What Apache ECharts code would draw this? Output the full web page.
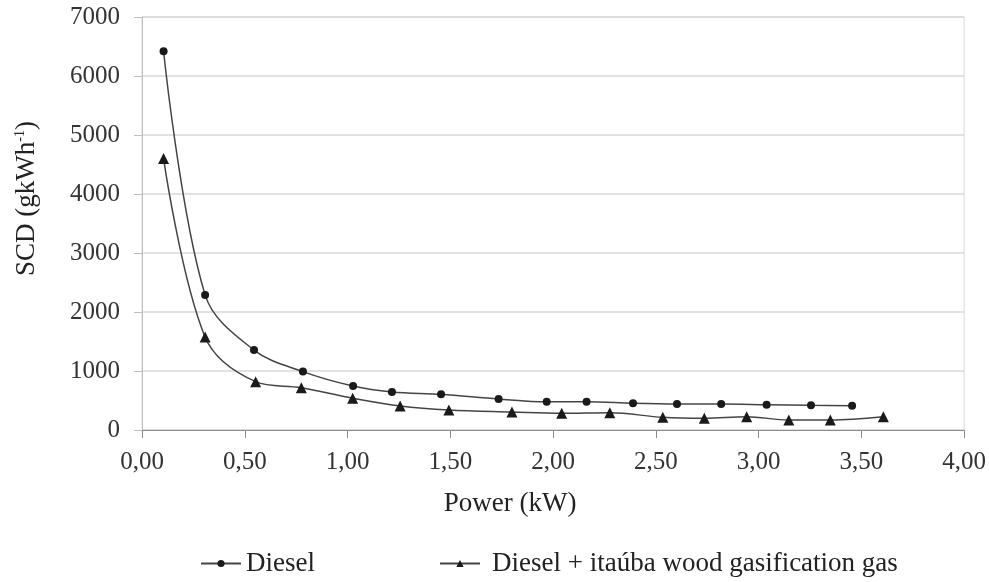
<!DOCTYPE html>
<html>
<head>
<meta charset="utf-8">
<script src="https://cdn.jsdelivr.net/npm/echarts@6/dist/echarts.min.js"></script>
<style>html,body{margin:0;padding:0;background:#fff}#c{width:989px;height:582px}</style>
</head>
<body>
<div id="c"></div>
<script>
const dieselX = [0.105, 0.307, 0.545, 0.783, 1.027, 1.216, 1.455, 1.735, 1.969, 2.163, 2.389, 2.603, 2.818, 3.039, 3.255, 3.455];
const dieselY = [6420, 2290, 1355, 990, 745, 645, 605, 525, 478, 478, 452, 440, 440, 429, 418, 412];
const gasX = [0.105, 0.307, 0.553, 0.775, 1.025, 1.256, 1.493, 1.800, 2.042, 2.276, 2.534, 2.736, 2.942, 3.147, 3.349, 3.607];
const gasY = [4600, 1575, 819, 717, 537, 407, 339, 305, 283, 293, 215, 198, 225, 169, 169, 225];
const seriesNames = ['Diesel', 'Diesel + itaúba wood gasification gas'];
const xTitle = 'Power (kW)';
const yTitle = 'SCD (gkWh{sup|-1})';

const font = 'Liberation Serif';
const chart = echarts.init(document.getElementById('c'));
const pair = (xs, ys) => xs.map((x, i) => [x, ys[i]]);
chart.setOption({
  animation: false,
  backgroundColor: '#fff',
  grid: { left: 142, right: 23, top: 17, bottom: 152, show: true, borderColor: '#d9d9d9', borderWidth: 1 },
  xAxis: {
    type: 'value', min: 0, max: 4, interval: 0.5,
    name: xTitle, nameLocation: 'middle', nameGap: 60,
    nameTextStyle: { fontFamily: font, fontSize: 27, color: '#222', padding: [0, 86, 0, 0] },
    axisLine: { lineStyle: { color: '#8c8c8c', width: 1 } },
    axisTick: { show: true, inside: false, length: 8, lineStyle: { color: '#8c8c8c' } },
    axisLabel: { fontFamily: font, fontSize: 25, color: '#333', margin: 20,
      formatter: v => v.toFixed(2).replace('.', ',') },
    splitLine: { show: false }
  },
  yAxis: {
    type: 'value', min: 0, max: 7000, interval: 1000,
    name: yTitle, nameLocation: 'middle', nameGap: 102, nameRotate: 90,
    nameTextStyle: { fontFamily: font, fontSize: 27, color: '#222', padding: [0, 0, 0, 50],
      rich: { sup: { fontFamily: font, fontSize: 14, verticalAlign: 'top', padding: [0, 0, 12, 0], color: '#222' } } },
    axisLine: { show: true, lineStyle: { color: '#bfbfbf', width: 1 } },
    axisTick: { show: true, inside: false, length: 8, lineStyle: { color: '#bfbfbf' } },
    axisLabel: { fontFamily: font, fontSize: 25, color: '#333', margin: 22, formatter: v => String(v) },
    splitLine: { lineStyle: { color: '#d9d9d9', width: 1.5 } }
  },
  legend: {
    left: 195, top: 545, itemWidth: 40, itemHeight: 9, itemGap: 124,
    textStyle: { fontFamily: font, fontSize: 27, color: '#222' },
    data: [
      { name: seriesNames[0] },
      { name: seriesNames[1], textStyle: { padding: [0, 0, 0, 7] } }
    ]
  },
  series: [
    { name: seriesNames[0], type: 'line', data: pair(dieselX, dieselY), smooth: 0.35,
      symbol: 'circle', symbolSize: 8,
      lineStyle: { color: '#444', width: 1.5 }, itemStyle: { color: '#1a1a1a' } },
    { name: seriesNames[1], type: 'line', data: pair(gasX, gasY), smooth: 0.35,
      symbol: 'triangle', symbolSize: 11,
      lineStyle: { color: '#444', width: 1.5 }, itemStyle: { color: '#1a1a1a' } }
  ]
});
</script>
</body>
</html>
